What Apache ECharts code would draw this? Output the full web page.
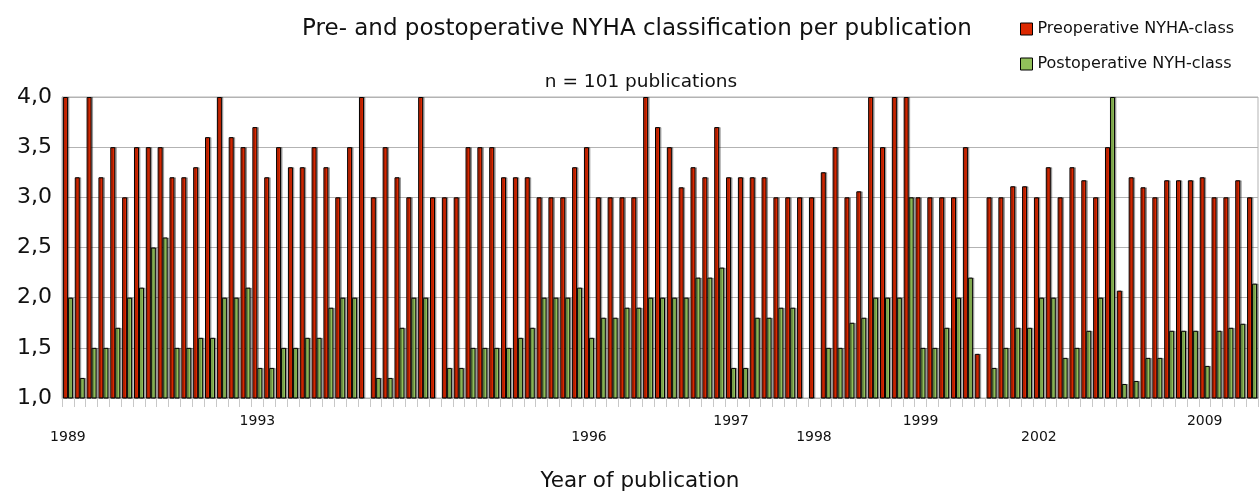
<!DOCTYPE html>
<html>
<head>
<meta charset="utf-8">
<script src="https://cdn.jsdelivr.net/npm/echarts@6/dist/echarts.min.js"></script>
<style>
	html,body{margin:0;padding:0;background:#fff;}
	#chart{width:1259px;height:492px;}
</style>
</head>
<body>
<div id="chart"></div>
<script>
	// one entry per publication (101)
	var preop = [
		4.0, 3.2, 4.0, 3.2, 3.5, 3.0, 3.5, 3.5, 3.5, 3.2,
		3.2, 3.3, 3.6, 4.0, 3.6, 3.5, 3.7, 3.2, 3.5, 3.3,
		3.3, 3.5, 3.3, 3.0, 3.5, 4.0, 3.0, 3.5, 3.2, 3.0,
		4.0, 3.0, 3.0, 3.0, 3.5, 3.5, 3.5, 3.2, 3.2, 3.2,
		3.0, 3.0, 3.0, 3.3, 3.5, 3.0, 3.0, 3.0, 3.0, 4.0,
		3.7, 3.5, 3.1, 3.3, 3.2, 3.7, 3.2, 3.2, 3.2, 3.2,
		3.0, 3.0, 3.0, 3.0, 3.25, 3.5, 3.0, 3.06, 4.0, 3.5,
		4.0, 4.0, 3.0, 3.0, 3.0, 3.0, 3.5, 1.44, 3.0, 3.0,
		3.11, 3.11, 3.0, 3.3, 3.0, 3.3, 3.17, 3.0, 3.5, 2.07,
		3.2, 3.1, 3.0, 3.17, 3.17, 3.17, 3.2, 3.0, 3.0, 3.17,
		3.0
	];
	var postop = [
		2.0, 1.2, 1.5, 1.5, 1.7, 2.0, 2.1, 2.5, 2.6, 1.5,
		1.5, 1.6, 1.6, 2.0, 2.0, 2.1, 1.3, 1.3, 1.5, 1.5,
		1.6, 1.6, 1.9, 2.0, 2.0, null, 1.2, 1.2, 1.7, 2.0,
		2.0, null, 1.3, 1.3, 1.5, 1.5, 1.5, 1.5, 1.6, 1.7,
		2.0, 2.0, 2.0, 2.1, 1.6, 1.8, 1.8, 1.9, 1.9, 2.0,
		2.0, 2.0, 2.0, 2.2, 2.2, 2.3, 1.3, 1.3, 1.8, 1.8,
		1.9, 1.9, null, null, 1.5, 1.5, 1.75, 1.8, 2.0, 2.0,
		2.0, 3.0, 1.5, 1.5, 1.7, 2.0, 2.2, null, 1.3, 1.5,
		1.7, 1.7, 2.0, 2.0, 1.4, 1.5, 1.67, 2.0, 4.0, 1.14,
		1.17, 1.4, 1.4, 1.67, 1.67, 1.67, 1.32, 1.67, 1.7, 1.74,
		2.14
	];
	// year tick labels and the publication (1-based) they sit under
	var yearLabels = ['1989', '1993', '1996', '1997', '1998', '1999', '2002', '2009'];
	var yearAt = [1, 17, 45, 57, 64, 73, 83, 97];

	var categories = [];
	for (var i = 0; i < preop.length; i++) {
		categories.push(String(i + 1));
	}
	var labelByIndex = {};
	for (var k = 0; k < yearLabels.length; k++) {
		// staggered: every other label drops one line
		labelByIndex[yearAt[k] - 1] = (k % 2 === 0 ? '\n' : '') + yearLabels[k];
	}

	var font = 'DejaVu Sans, Liberation Sans, sans-serif';
	var chart = echarts.init(document.getElementById('chart'), null, {renderer: 'canvas'});
	var option = {
		backgroundColor: '#fff',
		animation: false,
		textStyle: {fontFamily: font},
		title: [
			{
				text: 'Pre- and postoperative NYHA classification per publication',
				left: 632, top: 13, textAlign: 'center',
				textStyle: {fontFamily: font, fontSize: 23, fontWeight: 'normal', color: '#111'}
			},
			{
				text: 'n = 101 publications',
				left: 636, top: 68, textAlign: 'center',
				textStyle: {fontFamily: font, fontSize: 18.5, fontWeight: 'normal', color: '#111'}
			},
			{
				// axis title, centred on the page rather than on the grid
				text: 'Year of publication',
				left: 635, top: 465, textAlign: 'center',
				textStyle: {fontFamily: font, fontSize: 21.5, fontWeight: 'normal', color: '#111'}
			}
		],
		legend: {
			orient: 'vertical',
			left: 1015, top: 16,
			itemWidth: 12, itemHeight: 12, itemGap: 19,
			icon: 'rect',
			itemStyle: {borderColor: '#000', borderWidth: 1},
			textStyle: {fontFamily: font, fontSize: 16, color: '#111'},
			data: ['Preoperative NYHA-class', 'Postoperative NYH-class']
		},
		grid: {
			left: 62, right: 1, top: 97, bottom: 94,
			show: true, borderColor: '#b3b3b3', borderWidth: 1
		},
		xAxis: {
			type: 'category',
			data: categories,
			axisLine: {lineStyle: {color: '#b3b3b3'}},
			axisTick: {show: true, interval: 0, length: 9, lineStyle: {color: '#c8c8c8'}},
			axisLabel: {
				interval: 0, margin: 15,
				fontFamily: font, fontSize: 14, lineHeight: 16, color: '#111',
				formatter: function (v, idx) { return labelByIndex[idx] || ''; }
			}
		},
		yAxis: {
			type: 'value',
			min: 1, max: 4, interval: 0.5,
			axisLine: {show: true, lineStyle: {color: '#b3b3b3'}},
			axisTick: {show: false},
			splitLine: {lineStyle: {color: '#b3b3b3'}},
			axisLabel: {
				margin: 10, fontFamily: font, fontSize: 22, color: '#111',
				formatter: function (v) { return v.toFixed(1).replace('.', ','); }
			}
		},
		series: [
			{
				name: 'Preoperative NYHA-class',
				type: 'bar',
				barWidth: 5,
				barGap: '0%',
				data: preop,
				itemStyle: {
					color: '#dc2800', borderColor: '#000', borderWidth: 1,
					shadowColor: 'rgba(0,0,0,0.3)', shadowOffsetX: 1.5, shadowBlur: 0
				}
			},
			{
				name: 'Postoperative NYH-class',
				type: 'bar',
				barWidth: 5,
				data: postop,
				itemStyle: {
					color: '#92c05a', borderColor: '#000', borderWidth: 1,
					shadowColor: 'rgba(0,0,0,0.3)', shadowOffsetX: 1.5, shadowBlur: 0
				}
			}
		]
	};
	chart.setOption(option);
</script>
</body>
</html>
